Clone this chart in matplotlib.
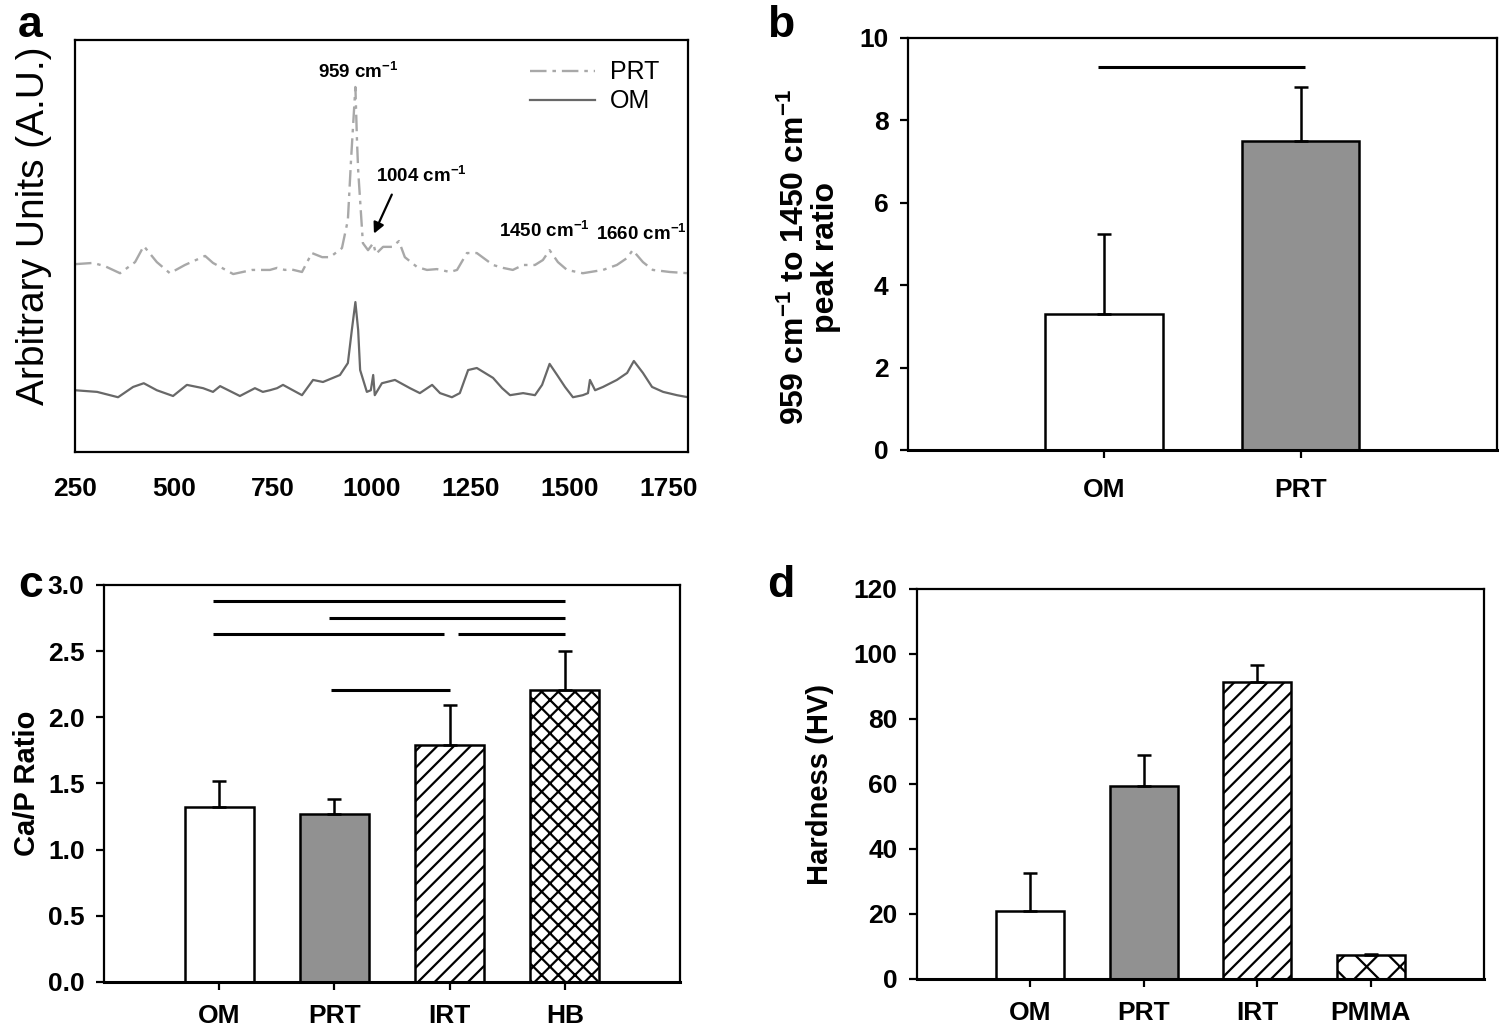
import matplotlib
matplotlib.use("Agg")
import matplotlib.pyplot as plt

# ---------------- data ----------------
# Panel a: Raman spectra (arbitrary units)
prt_wn = [250, 296, 326, 364, 402, 424, 457, 490, 528, 579, 599, 650, 698, 743, 761,
          781, 794, 824, 849, 875, 895, 925, 940, 948, 959, 963, 966, 978, 991, 1004,
          1011, 1029, 1052, 1069, 1084, 1115, 1140, 1165, 1198, 1216, 1241, 1266, 1307,
          1332, 1357, 1383, 1413, 1433, 1450, 1471, 1494, 1534, 1585, 1620, 1646, 1660,
          1686, 1711, 1754, 1800]
prt_int = [45.6, 45.9, 45.1, 43.4, 46.1, 50.0, 46.1, 43.4, 45.4, 47.6, 45.9, 43.2, 44.2,
           44.2, 44.7, 44.2, 44.4, 43.7, 48.3, 47.3, 47.3, 49.5, 56.3, 70.9, 88.6, 75.7,
           68.4, 50.7, 49.0, 50.7, 48.1, 49.8, 49.8, 51.2, 47.3, 44.9, 44.2, 44.4, 43.7,
           44.2, 48.3, 48.3, 45.4, 44.7, 44.2, 45.4, 45.4, 46.6, 49.0, 46.1, 44.2, 43.4,
           44.2, 45.4, 47.1, 49.0, 46.1, 44.2, 43.7, 43.4]
om_wn = [250, 306, 359, 397, 424, 457, 498, 533, 574, 599, 617, 667, 705, 725, 743, 761,
         776, 824, 852, 877, 920, 940, 950, 959, 966, 971, 988, 998, 1004, 1008, 1026,
         1059, 1097, 1122, 1153, 1173, 1203, 1223, 1244, 1266, 1307, 1330, 1350, 1383,
         1413, 1431, 1450, 1469, 1489, 1509, 1534, 1547, 1552, 1565, 1585, 1620, 1646,
         1663, 1686, 1709, 1737, 1772, 1800]
om_int = [15.0, 14.6, 13.3, 15.8, 16.7, 15.0, 13.6, 16.3, 15.5, 14.6, 16.0, 13.6, 15.5,
          14.6, 15.0, 15.5, 16.3, 13.8, 17.5, 17.0, 18.7, 21.6, 29.6, 36.4, 29.6, 19.9,
          14.6, 15.0, 18.7, 13.8, 16.7, 17.5, 15.5, 14.3, 16.3, 14.3, 13.3, 14.3, 19.9,
          20.4, 18.0, 15.5, 13.8, 14.3, 13.8, 16.3, 21.4, 18.7, 15.8, 13.3, 13.8, 14.3,
          17.5, 15.0, 15.8, 17.5, 19.2, 22.1, 19.2, 15.8, 14.6, 13.8, 13.3]
spec_xticks = [250, 500, 750, 1000, 1250, 1500, 1750]

# Panel b
b_cats = ["OM", "PRT"]
b_vals = [3.3, 7.5]
b_errs = [1.95, 1.3]
b_sig = [(9.3, -0.03, 1.02)]

# Panel c
c_cats = ["OM", "PRT", "IRT", "HB"]
c_vals = [1.32, 1.27, 1.79, 2.21]
c_errs = [0.20, 0.11, 0.30, 0.29]
c_sig = [(2.88, -0.05, 3.0), (2.75, 0.95, 3.0), (2.63, -0.05, 1.95),
         (2.63, 2.07, 3.0), (2.21, 0.97, 2.0)]

# Panel d
d_cats = ["OM", "PRT", "IRT", "PMMA"]
d_vals = [21.0, 59.5, 91.5, 7.5]
d_errs = [11.5, 9.5, 5.0, 0.2]

# ---------------- style ----------------
plt.rcParams['font.family'] = ['Liberation Sans', 'DejaVu Sans']
plt.rcParams['mathtext.fontset'] = 'custom'
plt.rcParams['mathtext.rm'] = 'Liberation Sans:bold'
plt.rcParams['mathtext.it'] = 'Liberation Sans:bold'
plt.rcParams['mathtext.bf'] = 'Liberation Sans:bold'
plt.rcParams['mathtext.default'] = 'rm'
plt.rcParams['hatch.linewidth'] = 1.6

fig = plt.figure(figsize=(14.99, 10.29), dpi=100)

TICK_FS = 19
LABEL_FS = 21

def style_spines(ax, lw=1.6, bottom_lw=2.2):
    for s in ax.spines.values():
        s.set_linewidth(lw)
        s.set_color('black')
    ax.spines['bottom'].set_linewidth(bottom_lw)

# ---------------- panel a ----------------
axa = fig.add_axes([0.0500, 0.5607, 0.4090, 0.4004])
axa.plot(prt_wn, prt_int, color='#a8a8a8', lw=1.7, ls=(0, (7, 2.5, 1.5, 2.5)), label='PRT')
axa.plot(om_wn, om_int, color='#686868', lw=1.6, ls='-', label='OM')
axa.set_xlim(250, 1800)
axa.set_ylim(0, 100)
axa.set_yticks([])
axa.set_xticks(spec_xticks)
axa.set_xticklabels([str(t) for t in spec_xticks], fontsize=TICK_FS, fontweight='bold')
axa.tick_params(axis='x', length=0, pad=18)
style_spines(axa, 1.6, 1.6)
axa.set_ylabel('Arbitrary Units (A.U.)', fontsize=28)
axa.yaxis.set_label_coords(-0.038, 0.55)
leg = axa.legend(loc='upper right', frameon=False, fontsize=18, handlelength=2.6,
                 handletextpad=0.6, labelspacing=0.2, bbox_to_anchor=(0.99, 1.005))
ann_fs = 13.5
axa.text(966, 92.2, '959 cm$^{-1}$', ha='center', va='center', fontsize=ann_fs, fontweight='bold')
axa.text(1127, 67.0, '1004 cm$^{-1}$', ha='center', va='center', fontsize=ann_fs, fontweight='bold')
axa.text(1438, 53.6, '1450 cm$^{-1}$', ha='center', va='center', fontsize=ann_fs, fontweight='bold')
axa.text(1681, 53.0, '1660 cm$^{-1}$', ha='center', va='center', fontsize=ann_fs, fontweight='bold')
axa.annotate('', xy=(1003, 52.4), xytext=(1054, 63.1),
             arrowprops=dict(arrowstyle='-|>', color='black', lw=1.6, mutation_scale=16))

# ---------------- bar panels ----------------
def bar_panel(rect, cats, vals, errs, fills, hatches, ylim, yticks, yticklabels,
              ylabel, sig=None, ylabel_pad=10, xpad=14):
    ax = fig.add_axes(rect)
    x = list(range(len(cats)))
    ax.bar(x, vals, width=0.6, color=fills, edgecolor='black', linewidth=1.8,
           hatch=hatches, zorder=2)
    ax.errorbar(x, vals, yerr=[[0] * len(errs), errs], fmt='none', ecolor='black',
                elinewidth=1.8, capsize=5, capthick=1.8, zorder=3)
    if sig:
        for (yv, x0, x1) in sig:
            ax.plot([x0, x1], [yv, yv], color='black', lw=2.2, solid_capstyle='butt')
    ax.set_xlim(-1, len(cats))
    ax.set_ylim(*ylim)
    ax.set_xticks(x)
    ax.set_xticklabels(cats, fontsize=TICK_FS, fontweight='bold')
    ax.set_yticks(yticks)
    ax.set_yticklabels(yticklabels, fontsize=TICK_FS, fontweight='bold')
    ax.tick_params(axis='x', direction='out', length=6, width=1.6, pad=xpad)
    ax.tick_params(axis='y', direction='out', length=6, width=1.6, pad=8)
    style_spines(ax)
    ax.set_ylabel(ylabel, fontsize=LABEL_FS, fontweight='bold', labelpad=ylabel_pad,
                  linespacing=1.0)
    return ax

gray = '#919191'
axb = bar_panel([0.6057, 0.5627, 0.3929, 0.4004], b_cats, b_vals, b_errs,
                ['white', gray], [None, None], (0, 10), [0, 2, 4, 6, 8, 10],
                ['0', '2', '4', '6', '8', '10'],
                '959 cm$^{-1}$ to 1450 cm$^{-1}$\npeak ratio', sig=b_sig)
axb.yaxis.label.set_fontsize(23)
axb.yaxis.set_label_coords(-0.113, 0.468)

axc = bar_panel([0.0694, 0.0457, 0.3843, 0.3858], c_cats, c_vals, c_errs,
                ['white', gray, 'white', 'white'], [None, None, '//', 'xx'],
                (0, 3.0), [0, 0.5, 1.0, 1.5, 2.0, 2.5, 3.0],
                ['0.0', '0.5', '1.0', '1.5', '2.0', '2.5', '3.0'],
                'Ca/P Ratio', sig=c_sig, ylabel_pad=5, xpad=10)

axd = bar_panel([0.6117, 0.0486, 0.3783, 0.3790], d_cats, d_vals, d_errs,
                ['white', gray, 'white', 'white'], [None, None, '//', 'x'],
                (0, 120), [0, 20, 40, 60, 80, 100, 120],
                ['0', '20', '40', '60', '80', '100', '120'],
                'Hardness (HV)', ylabel_pad=14, xpad=10)

# panel letters
for lbl, (fx, fy) in zip(['a', 'b', 'c', 'd'],
                         [(0.012, 0.975), (0.512, 0.975), (0.012, 0.431), (0.512, 0.431)]):
    fig.text(fx, fy, lbl, fontsize=32, fontweight='bold', ha='left', va='center')

fig.savefig('out.png', dpi=100)
